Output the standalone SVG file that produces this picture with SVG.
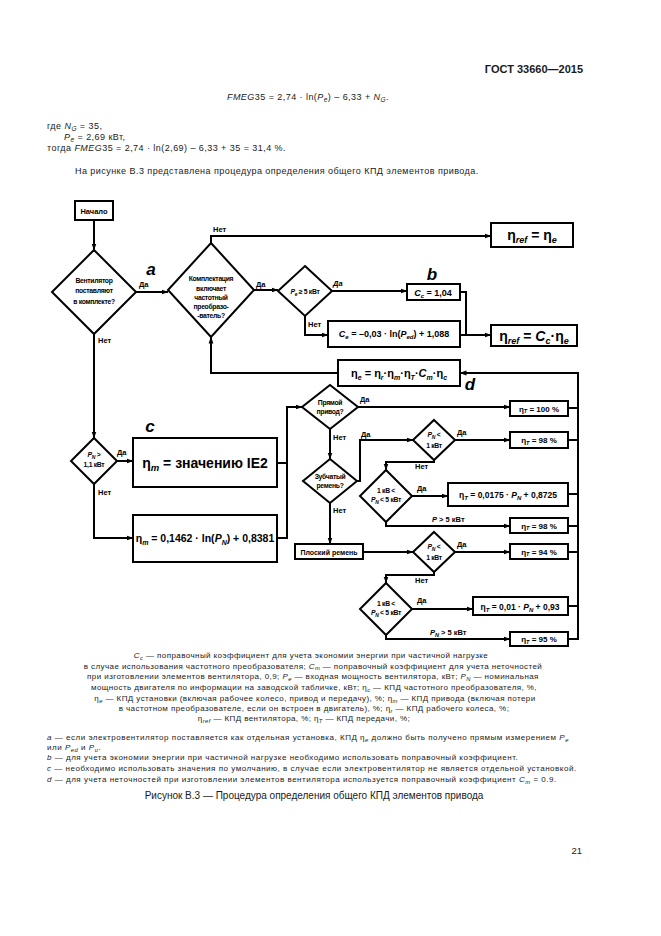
<svg xmlns="http://www.w3.org/2000/svg" width="661" height="936" viewBox="0 0 661 936">
<defs>
<marker id="ah" markerWidth="7" markerHeight="6" refX="6.5" refY="3" orient="auto" markerUnits="userSpaceOnUse"><path d="M0,0.6 L7,3 L0,5.4 z" fill="#000"/></marker>
<style>
text{font-family:"Liberation Sans",Arial,sans-serif;fill:#1a1a1a}
.pg{font-size:9px;letter-spacing:0.45px}
.lg{font-size:8px;letter-spacing:0.42px}
.nt{font-size:8px;letter-spacing:0.52px}
.fc{font-weight:bold;fill:#000}
.d{font-size:6.8px;font-weight:bold;fill:#000;letter-spacing:-0.3px}
.yn{font-size:7.5px;font-weight:bold;fill:#000}
.lb{font-size:17px;font-weight:bold;font-style:italic;fill:#000}
.i{font-style:italic}
.shape{fill:#fff;stroke:#000;stroke-width:2}
.ln{fill:none;stroke:#000;stroke-width:2}
.ar{marker-end:url(#ah)}
</style>
</defs>
<rect width="661" height="936" fill="#fff"/>

<!-- page text -->
<text x="583" y="73" text-anchor="end" font-size="11" font-weight="bold">ГОСТ 33660—2015</text>
<text x="308" y="100" text-anchor="middle" class="pg"><tspan class="i">FMEG</tspan>35 = 2,74 · ln(<tspan class="i">P</tspan><tspan class="i" font-size="6.5" dy="2">e</tspan><tspan dy="-2">) – 6,33 + </tspan><tspan class="i">N</tspan><tspan class="i" font-size="6.5" dy="2">G</tspan><tspan dy="-2">.</tspan></text>
<text x="47" y="129" class="pg">где <tspan class="i">N</tspan><tspan class="i" font-size="6.5" dy="2">G</tspan><tspan dy="-2"> = 35,</tspan></text>
<text x="64" y="140" class="pg"><tspan class="i">P</tspan><tspan class="i" font-size="6.5" dy="2">e</tspan><tspan dy="-2"> = 2,69 кВт,</tspan></text>
<text x="47" y="151" class="pg">тогда <tspan class="i">FMEG</tspan>35 = 2,74 · ln(2,69) – 6,33 + 35 = 31,4 %.</text>
<text x="75" y="174" class="pg">На рисунке В.3 представлена процедура определения общего КПД элементов привода.</text>

<!-- connectors -->
<g id="connectors">
<path class="ln ar" d="M94,220 V250"/>
<path class="ln ar" d="M136,292 H168"/>
<path class="ln ar" d="M211,243 V236 H491"/>
<path class="ln ar" d="M254,290 H278"/>
<path class="ln ar" d="M332,291 H407"/>
<path class="ln ar" d="M305,316 V335 H328"/>
<path class="ln" d="M460,292 H466 V335"/>
<path class="ln ar" d="M460,335 H491"/>
<path class="ln ar" d="M338,373 H211 V337"/>
<path class="ln ar" d="M578,373 H460"/>
<path class="ln ar" d="M94,334 V438"/>
<path class="ln ar" d="M117,461 H133"/>
<path class="ln ar" d="M94,484 V538 H133"/>
<path class="ln" d="M277,463 H287"/>
<path class="ln ar" d="M277,538 H287 V407 H302"/>
<path class="ln ar" d="M358,407 H510"/>
<path class="ln ar" d="M330,429 V459"/>
<path class="ln ar" d="M357,481 H360 V440 H413"/>
<path class="ln ar" d="M455,440 H510"/>
<path class="ln ar" d="M434,460 V462 H386 V470"/>
<path class="ln ar" d="M412,496 H448"/>
<path class="ln ar" d="M386,522 V526 H510"/>
<path class="ln ar" d="M330,503 V544"/>
<path class="ln ar" d="M363,552 H413"/>
<path class="ln ar" d="M455,552 H510"/>
<path class="ln ar" d="M434,572 V575 H386 V583"/>
<path class="ln ar" d="M412,609 H473"/>
<path class="ln ar" d="M386,635 V639 H510"/>
<path class="ln" d="M568,408 H578 M568,440 H578 M568,494 H578 M568,526 H578 M568,552 H578 M568,606 H578 M568,639 H578 V372"/>
<text class="yn" x="139" y="287">Да</text>
<text class="yn" x="213" y="232">Нет</text>
<text class="yn" x="256" y="287">Да</text>
<text class="yn" x="333" y="286" font-style="italic">Да</text>
<text class="yn" x="308" y="327">Нет</text>
<text class="yn" x="98" y="343">Нет</text>
<text class="yn" x="117" y="455">Да</text>
<text class="yn" x="98" y="495">Нет</text>
<text class="yn" x="360" y="402">Да</text>
<text class="yn" x="333" y="440">Нет</text>
<text class="yn" x="361" y="437">Да</text>
<text class="yn" x="457" y="435">Да</text>
<text class="yn" x="415" y="469">Нет</text>
<text class="yn" x="417" y="491">Да</text>
<text class="yn" x="432" y="522"><tspan class="i">P</tspan> &gt; 5 кВт</text>
<text class="yn" x="333" y="513">Нет</text>
<text class="yn" x="457" y="547">Да</text>
<text class="yn" x="415" y="583">Нет</text>
<text class="yn" x="417" y="603">Да</text>
<text class="yn" x="430" y="635"><tspan class="i">P</tspan><tspan class="i" font-size="5.5" dy="1.5">N</tspan><tspan dy="-1.5"> &gt; 5 кВт</tspan></text>
</g>

<!-- labels a b c d -->
<text class="lb" x="151" y="275" text-anchor="middle">a</text>
<text class="lb" x="432" y="280" text-anchor="middle">b</text>
<text class="lb" x="150" y="432" text-anchor="middle">c</text>
<text class="lb" x="470" y="390" text-anchor="middle">d</text>

<!-- nodes -->
<g id="start"><rect class="shape" x="75" y="201" width="38" height="19"/><text class="fc" x="94" y="213.5" text-anchor="middle" font-size="7.5">Начало</text></g>

<g id="d-supplied"><polygon class="shape" points="94,250 136,292 94,334 52,292"/>
<text class="d" text-anchor="middle"><tspan x="94" y="283">Вентилятор</tspan><tspan x="94" y="293">поставляют</tspan><tspan x="94" y="304">в комплекте?</tspan></text></g>

<g id="d-converter"><polygon class="shape" points="211,243 254,290 211,337 168,290"/>
<text class="d" text-anchor="middle"><tspan x="211" y="281">Комплектация</tspan><tspan x="211" y="290.5">включает</tspan><tspan x="211" y="299.5">частотный</tspan><tspan x="211" y="309">преобразо-</tspan><tspan x="211" y="318">-ватель?</tspan></text></g>

<g id="d-pe"><polygon class="shape" points="305,266 332,291 305,316 278,291"/>
<text class="d" x="305" y="294" text-anchor="middle"><tspan class="i">P</tspan><tspan class="i" font-size="5" dy="1.5">e</tspan><tspan dy="-1.5"> ≥ 5 кВт</tspan></text></g>

<g id="b-ref-e"><rect class="shape" x="491" y="223" width="82" height="24"/>
<text class="fc" x="532" y="240" text-anchor="middle" font-size="14">η<tspan class="i" font-size="9" dy="3">ref</tspan><tspan dy="-3"> = η</tspan><tspan class="i" font-size="9" dy="3">e</tspan></text></g>

<g id="b-cc"><rect class="shape" x="407" y="284" width="53" height="16"/>
<text class="fc" x="433" y="295.5" text-anchor="middle" font-size="9"><tspan class="i">C</tspan><tspan class="i" font-size="6" dy="2">c</tspan><tspan dy="-2"> = 1,04</tspan></text></g>

<g id="b-ce"><rect class="shape" x="328" y="321" width="132" height="26"/>
<text class="fc" x="394" y="337" text-anchor="middle" font-size="9"><tspan class="i">C</tspan><tspan class="i" font-size="6" dy="2">e</tspan><tspan dy="-2"> = –0,03 · ln(</tspan><tspan class="i">P</tspan><tspan class="i" font-size="6" dy="2">ed</tspan><tspan dy="-2">) + 1,088</tspan></text></g>

<g id="b-ref-c"><rect class="shape" x="491" y="325" width="86" height="21"/>
<text class="fc" x="534" y="341" text-anchor="middle" font-size="14">η<tspan class="i" font-size="9" dy="3">ref</tspan><tspan dy="-3"> = </tspan><tspan class="i">C</tspan><tspan class="i" font-size="9" dy="3">c</tspan><tspan dy="-3">·η</tspan><tspan class="i" font-size="9" dy="3">e</tspan></text></g>

<g id="b-eta-e"><rect class="shape" x="338" y="360" width="122" height="26"/>
<text class="fc" x="399" y="377" text-anchor="middle" font-size="11">η<tspan class="i" font-size="7" dy="2.5">e</tspan><tspan dy="-2.5"> = η</tspan><tspan class="i" font-size="7" dy="2.5">r</tspan><tspan dy="-2.5">·η</tspan><tspan class="i" font-size="7" dy="2.5">m</tspan><tspan dy="-2.5">·η</tspan><tspan class="i" font-size="7" dy="2.5">T</tspan><tspan dy="-2.5">·</tspan><tspan class="i">C</tspan><tspan class="i" font-size="7" dy="2.5">m</tspan><tspan dy="-2.5">·η</tspan><tspan class="i" font-size="7" dy="2.5">c</tspan></text></g>

<g id="d-pn11"><polygon class="shape" points="94,438 117,461 94,484 71,461"/>
<text class="d" text-anchor="middle"><tspan x="94" y="457"><tspan class="i">P</tspan><tspan class="i" font-size="5" dy="1.5">N</tspan><tspan dy="-1.5"> &gt;</tspan></tspan><tspan x="94" y="467">1,1 кВт</tspan></text></g>

<g id="b-ie2"><rect class="shape" x="133" y="438" width="144" height="49"/>
<text class="fc" x="205" y="468" text-anchor="middle" font-size="14">η<tspan class="i" font-size="9.5" dy="3">m</tspan><tspan dy="-3"> = значению IE2</tspan></text></g>

<g id="b-etam"><rect class="shape" x="133" y="515" width="144" height="47"/>
<text class="fc" x="205" y="542" text-anchor="middle" font-size="10.5">η<tspan class="i" font-size="7" dy="2.5">m</tspan><tspan dy="-2.5"> = 0,1462 · ln(</tspan><tspan class="i">P</tspan><tspan class="i" font-size="7" dy="2.5">N</tspan><tspan dy="-2.5">) + 0,8381</tspan></text></g>

<g id="d-direct"><polygon class="shape" points="330,385 358,407 330,429 302,407"/>
<text class="d" text-anchor="middle" font-size="6.5"><tspan x="330" y="405">Прямой</tspan><tspan x="330" y="414">привод?</tspan></text></g>

<g id="b-100"><rect class="shape" x="510" y="401" width="58" height="15"/>
<text class="fc" x="539" y="411.5" text-anchor="middle" font-size="8">η<tspan class="i" font-size="5.5" dy="1.5">T</tspan><tspan dy="-1.5"> = 100 %</tspan></text></g>

<g id="d-toothed"><polygon class="shape" points="330,459 357,481 330,503 303,481"/>
<text class="d" text-anchor="middle" font-size="6.5"><tspan x="330" y="479">Зубчатый</tspan><tspan x="330" y="488">ремень?</tspan></text></g>

<g id="d-pn1a"><polygon class="shape" points="434,420 455,440 434,460 413,440"/>
<text class="d" text-anchor="middle"><tspan x="434" y="437"><tspan class="i">P</tspan><tspan class="i" font-size="5" dy="1.5">N</tspan><tspan dy="-1.5"> &lt;</tspan></tspan><tspan x="434" y="448">1 кВт</tspan></text></g>

<g id="b-98a"><rect class="shape" x="510" y="432" width="58" height="16"/>
<text class="fc" x="539" y="443" text-anchor="middle" font-size="8">η<tspan class="i" font-size="5.5" dy="1.5">T</tspan><tspan dy="-1.5"> = 98 %</tspan></text></g>

<g id="d-1to5a"><polygon class="shape" points="386,470 412,496 386,522 360,496"/>
<text class="d" text-anchor="middle"><tspan x="386" y="493">1 кВ &lt;</tspan><tspan x="386" y="502"><tspan class="i">P</tspan><tspan class="i" font-size="5" dy="1.5">N</tspan><tspan dy="-1.5"> &lt; 5 кВт</tspan></tspan></text></g>

<g id="b-0175"><rect class="shape" x="448" y="483" width="120" height="23"/>
<text class="fc" x="508" y="498" text-anchor="middle" font-size="8.5">η<tspan class="i" font-size="6" dy="2">T</tspan><tspan dy="-2"> = 0,0175 · </tspan><tspan class="i">P</tspan><tspan class="i" font-size="6" dy="2">N</tspan><tspan dy="-2"> + 0,8725</tspan></text></g>

<g id="b-98b"><rect class="shape" x="510" y="518" width="58" height="15"/>
<text class="fc" x="539" y="528.5" text-anchor="middle" font-size="8">η<tspan class="i" font-size="5.5" dy="1.5">T</tspan><tspan dy="-1.5"> = 98 %</tspan></text></g>

<g id="b-flat"><rect class="shape" x="295" y="544" width="68" height="15"/>
<text class="fc" x="329" y="554.5" text-anchor="middle" font-size="7">Плоский ремень</text></g>

<g id="d-pn1b"><polygon class="shape" points="434,532 455,552 434,572 413,552"/>
<text class="d" text-anchor="middle"><tspan x="434" y="549"><tspan class="i">P</tspan><tspan class="i" font-size="5" dy="1.5">N</tspan><tspan dy="-1.5"> &lt;</tspan></tspan><tspan x="434" y="560">1 кВт</tspan></text></g>

<g id="b-94"><rect class="shape" x="510" y="544" width="58" height="15"/>
<text class="fc" x="539" y="554.5" text-anchor="middle" font-size="8">η<tspan class="i" font-size="5.5" dy="1.5">T</tspan><tspan dy="-1.5"> = 94 %</tspan></text></g>

<g id="d-1to5b"><polygon class="shape" points="386,583 412,609 386,635 360,609"/>
<text class="d" text-anchor="middle"><tspan x="386" y="606">1 кВ &lt;</tspan><tspan x="386" y="615"><tspan class="i">P</tspan><tspan class="i" font-size="5" dy="1.5">N</tspan><tspan dy="-1.5"> &lt; 5 кВт</tspan></tspan></text></g>

<g id="b-001"><rect class="shape" x="473" y="597" width="95" height="18"/>
<text class="fc" x="520" y="609.5" text-anchor="middle" font-size="8.5">η<tspan class="i" font-size="6" dy="2">T</tspan><tspan dy="-2"> = 0,01 · </tspan><tspan class="i">P</tspan><tspan class="i" font-size="6" dy="2">N</tspan><tspan dy="-2"> + 0,93</tspan></text></g>

<g id="b-95"><rect class="shape" x="510" y="632" width="58" height="14"/>
<text class="fc" x="539" y="642" text-anchor="middle" font-size="8">η<tspan class="i" font-size="5.5" dy="1.5">T</tspan><tspan dy="-1.5"> = 95 %</tspan></text></g>

<!-- legend -->
<g id="legend" class="lg" text-anchor="middle">
<text x="311" y="658"><tspan class="i">C</tspan><tspan class="i" font-size="5.8" dy="1.5">c</tspan><tspan dy="-1.5"> — поправочный коэффициент для учета экономии энергии при частичной нагрузке</tspan></text>
<text x="313" y="668.5">в случае использования частотного преобразователя; <tspan class="i">C</tspan><tspan class="i" font-size="5.8" dy="1.5">m</tspan><tspan dy="-1.5"> — поправочный коэффициент для учета неточностей</tspan></text>
<text x="313" y="679">при изготовлении элементов вентилятора, 0,9; <tspan class="i">P</tspan><tspan class="i" font-size="5.8" dy="1.5">e</tspan><tspan dy="-1.5"> — входная мощность вентилятора, кВт; </tspan><tspan class="i">P</tspan><tspan class="i" font-size="5.8" dy="1.5">N</tspan><tspan dy="-1.5"> — номинальная</tspan></text>
<text x="314" y="690">мощность двигателя по информации на заводской табличке, кВт; η<tspan class="i" font-size="5.8" dy="1.5">c</tspan><tspan dy="-1.5"> — КПД частотного преобразователя, %,</tspan></text>
<text x="315" y="701">η<tspan class="i" font-size="5.8" dy="1.5">e</tspan><tspan dy="-1.5"> — КПД установки (включая рабочее колесо, привод и передачу), %; η</tspan><tspan class="i" font-size="5.8" dy="1.5">m</tspan><tspan dy="-1.5"> — КПД привода (включая потери</tspan></text>
<text x="314" y="711">в частотном преобразователе, если он встроен в двигатель), %; η<tspan class="i" font-size="5.8" dy="1.5">r</tspan><tspan dy="-1.5"> — КПД рабочего колеса, %;</tspan></text>
<text x="304" y="721">η<tspan class="i" font-size="5.8" dy="1.5">ref</tspan><tspan dy="-1.5"> — КПД вентилятора, %; η</tspan><tspan class="i" font-size="5.8" dy="1.5">T</tspan><tspan dy="-1.5"> — КПД передачи, %;</tspan></text>
</g>

<!-- notes -->
<g id="notes" class="nt">
<text x="47" y="740"><tspan class="i">a</tspan> — если электровентилятор поставляется как отдельная установка, КПД η<tspan class="i" font-size="5.8" dy="1.5">e</tspan><tspan dy="-1.5"> должно быть получено прямым измерением </tspan><tspan class="i">P</tspan><tspan class="i" font-size="5.8" dy="1.5">e</tspan></text>
<text x="47" y="750">или <tspan class="i">P</tspan><tspan class="i" font-size="5.8" dy="1.5">ed</tspan><tspan dy="-1.5"> и </tspan><tspan class="i">P</tspan><tspan class="i" font-size="5.8" dy="1.5">u</tspan><tspan dy="-1.5">.</tspan></text>
<text x="47" y="760"><tspan class="i">b</tspan> — для учета экономии энергии при частичной нагрузке необходимо использовать поправочный коэффициент.</text>
<text x="47" y="771"><tspan class="i">c</tspan> — необходимо использовать значения по умолчанию, в случае если электровентилятор не является отдельной установкой.</text>
<text x="47" y="782"><tspan class="i">d</tspan> — для учета неточностей при изготовлении элементов вентилятора используется поправочный коэффициент <tspan class="i">C</tspan><tspan class="i" font-size="5.8" dy="1.5">m</tspan><tspan dy="-1.5"> = 0.9.</tspan></text>
</g>
<text x="314" y="799" text-anchor="middle" font-size="10">Рисунок В.3 — Процедура определения общего КПД элементов привода</text>
<text x="582" y="854" text-anchor="end" font-size="9.5">21</text>
</svg>
